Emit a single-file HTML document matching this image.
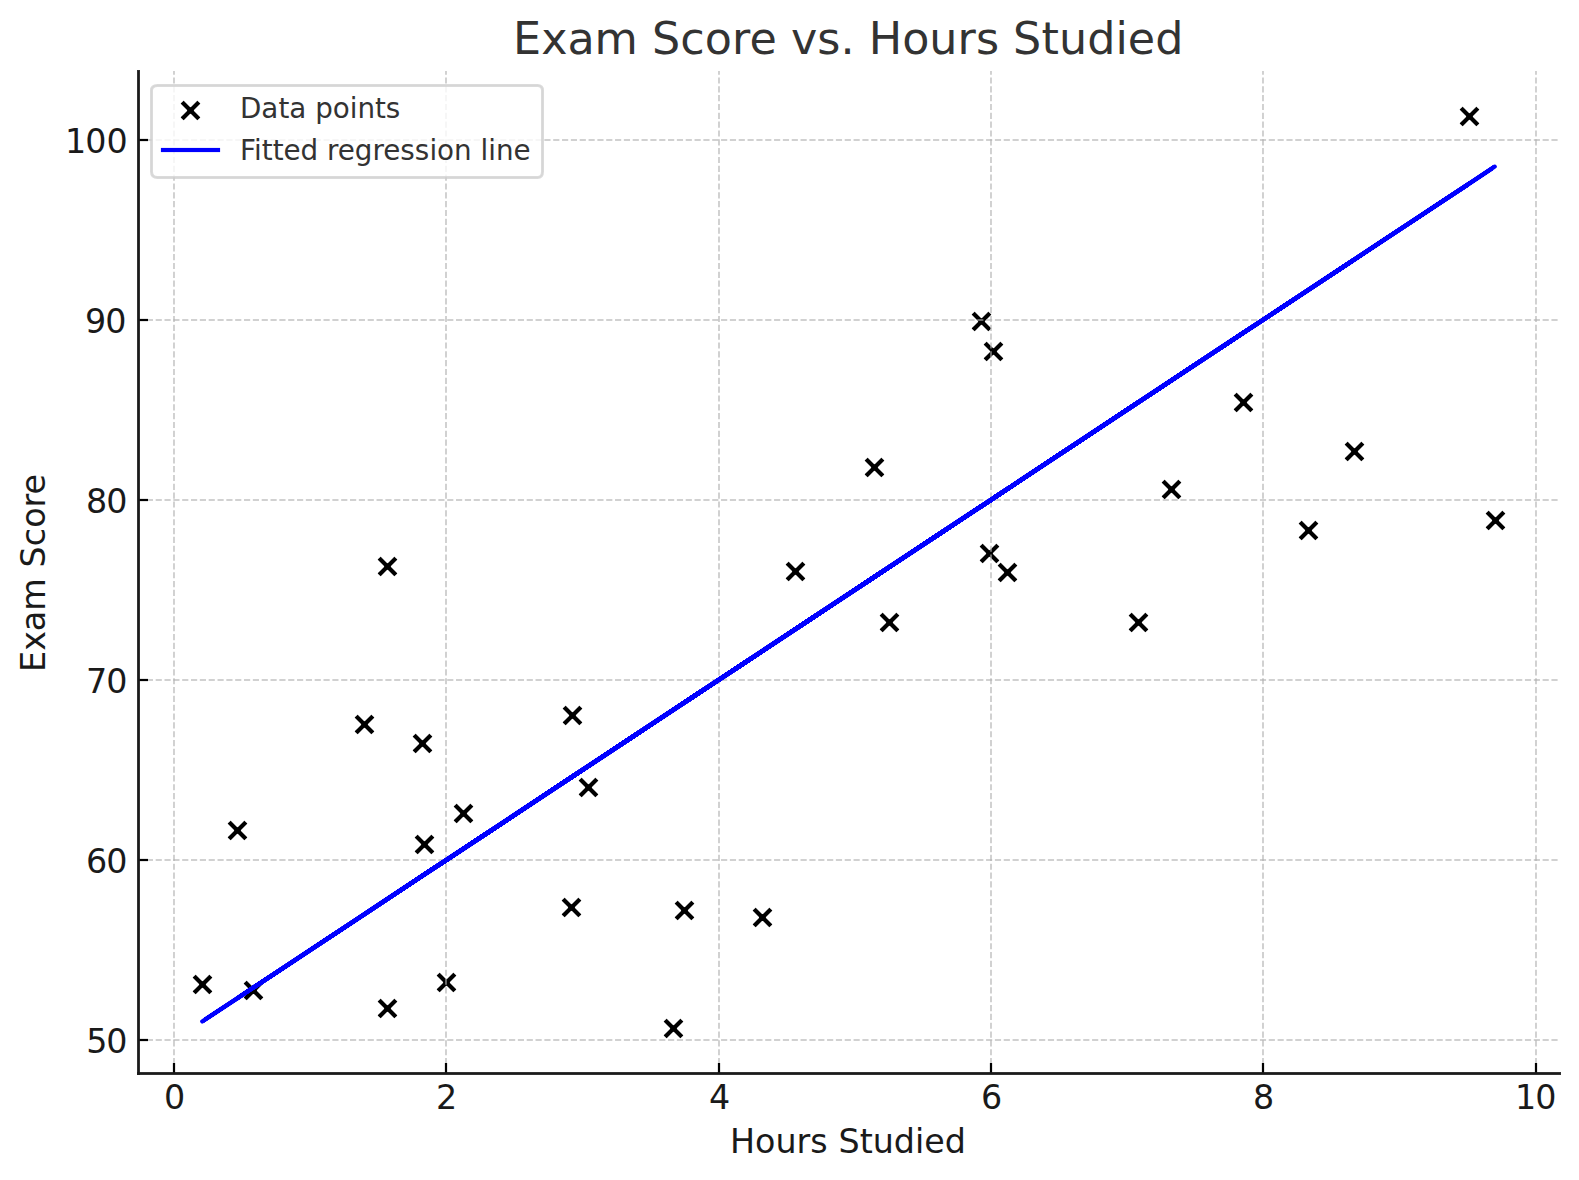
<!DOCTYPE html>
<html lang="en"><head><meta charset="utf-8"><title>Exam Score vs. Hours Studied</title>
<style>html,body{margin:0;padding:0;background:#fff}svg{display:block}text{font-family:"DejaVu Sans","Liberation Sans",sans-serif;white-space:pre}</style></head><body>
<svg width="1579" height="1180" viewBox="0 0 1579 1180">
<rect width="1579" height="1180" fill="#fff"/>
<defs><clipPath id="ax"><rect x="137.583" y="70.667" width="1421.800" height="1002.500"/></clipPath></defs>
<g clip-path="url(#ax)" style="isolation:isolate" stroke="#000" stroke-width="4.167" fill="none"><path d="M676.23 902.23L692.77 918.77M677.5 903.5L676.15 902.15M691.5 917.5L692.85 918.85M1461.23 108.23L1477.77 124.77M1462.5 109.5L1461.15 108.15M1476.5 123.5L1477.85 124.85M1163.23 481.23L1179.77 497.77M1164.5 482.5L1163.15 481.15M1178.5 496.5L1179.85 497.85M981.23 545.23L997.77 561.77M982.5 546.5L981.15 545.15M996.5 560.5L997.85 561.85M379.23 1000.23L395.77 1016.77M380.5 1001.5L379.15 1000.15M394.5 1015.5L395.85 1016.85M379.23 558.23L395.77 574.77M380.5 559.5L379.15 558.15M394.5 573.5L395.85 574.85M245.23 982.23L261.77 998.77M246.5 983.5L245.15 982.15M260.5 997.5L261.85 998.85M1346.23 443.23L1362.77 459.77M1347.5 444.5L1346.15 443.15M1361.5 458.5L1362.85 459.85M985.23 343.23L1001.77 359.77M986.5 344.5L985.15 343.15M1000.5 358.5L1001.85 359.85M1130.23 614.23L1146.77 630.77M1131.5 615.5L1130.15 614.15M1145.5 629.5L1146.85 630.85M194.23 976.23L210.77 992.77M195.5 977.5L194.15 976.15M209.5 991.5L210.85 992.85M1487.23 512.23L1503.77 528.77M1488.5 513.5L1487.15 512.15M1502.5 527.5L1503.85 528.85M1300.23 522.23L1316.77 538.77M1301.5 523.5L1300.15 522.15M1315.5 537.5L1316.85 538.85M455.23 805.23L471.77 821.77M456.5 806.5L455.15 805.15M470.5 820.5L471.85 821.85M414.23 735.23L430.77 751.77M415.5 736.5L414.15 735.15M429.5 750.5L430.85 751.85M416.23 836.23L432.77 852.77M417.5 837.5L416.15 836.15M431.5 851.5L432.85 852.85M580.23 779.23L596.77 795.77M581.5 780.5L580.15 779.15M595.5 794.5L596.85 795.85M881.23 614.23L897.77 630.77M882.5 615.5L881.15 614.15M896.5 629.5L897.85 630.85M754.23 909.23L770.77 925.77M755.5 910.5L754.15 909.15M769.5 924.5L770.85 925.85M563.23 899.23L579.77 915.77M564.5 900.5L563.15 899.15M578.5 914.5L579.85 915.85M999.23 564.23L1015.77 580.77M1000.5 565.5L999.15 564.15M1014.5 579.5L1015.85 580.85M356.23 716.23L372.77 732.77M357.5 717.5L356.15 716.15M371.5 731.5L372.85 732.85M564.23 707.23L580.77 723.77M565.5 708.5L564.15 707.15M579.5 722.5L580.85 723.85M665.23 1020.23L681.77 1036.77M666.5 1021.5L665.15 1020.15M680.5 1035.5L681.85 1036.85M787.23 563.23L803.77 579.77M788.5 564.5L787.15 563.15M802.5 578.5L803.85 579.85M1235.23 394.23L1251.77 410.77M1236.5 395.5L1235.15 394.15M1250.5 409.5L1251.85 410.85M438.23 974.23L454.77 990.77M439.5 975.5L438.15 974.15M453.5 989.5L454.85 990.85M866.23 459.23L882.77 475.77M867.5 460.5L866.15 459.15M881.5 474.5L882.85 475.85M973.23 313.23L989.77 329.77M974.5 314.5L973.15 313.15M988.5 328.5L989.85 329.85M229.23 822.23L245.77 838.77M230.5 823.5L229.15 822.15M244.5 837.5L245.85 838.85"/><path style="mix-blend-mode:plus-lighter" d="M676.23 918.77L692.77 902.23M677.5 917.5L676.15 918.85M691.5 903.5L692.85 902.15M1461.23 124.77L1477.77 108.23M1462.5 123.5L1461.15 124.85M1476.5 109.5L1477.85 108.15M1163.23 497.77L1179.77 481.23M1164.5 496.5L1163.15 497.85M1178.5 482.5L1179.85 481.15M981.23 561.77L997.77 545.23M982.5 560.5L981.15 561.85M996.5 546.5L997.85 545.15M379.23 1016.77L395.77 1000.23M380.5 1015.5L379.15 1016.85M394.5 1001.5L395.85 1000.15M379.23 574.77L395.77 558.23M380.5 573.5L379.15 574.85M394.5 559.5L395.85 558.15M245.23 998.77L261.77 982.23M246.5 997.5L245.15 998.85M260.5 983.5L261.85 982.15M1346.23 459.77L1362.77 443.23M1347.5 458.5L1346.15 459.85M1361.5 444.5L1362.85 443.15M985.23 359.77L1001.77 343.23M986.5 358.5L985.15 359.85M1000.5 344.5L1001.85 343.15M1130.23 630.77L1146.77 614.23M1131.5 629.5L1130.15 630.85M1145.5 615.5L1146.85 614.15M194.23 992.77L210.77 976.23M195.5 991.5L194.15 992.85M209.5 977.5L210.85 976.15M1487.23 528.77L1503.77 512.23M1488.5 527.5L1487.15 528.85M1502.5 513.5L1503.85 512.15M1300.23 538.77L1316.77 522.23M1301.5 537.5L1300.15 538.85M1315.5 523.5L1316.85 522.15M455.23 821.77L471.77 805.23M456.5 820.5L455.15 821.85M470.5 806.5L471.85 805.15M414.23 751.77L430.77 735.23M415.5 750.5L414.15 751.85M429.5 736.5L430.85 735.15M416.23 852.77L432.77 836.23M417.5 851.5L416.15 852.85M431.5 837.5L432.85 836.15M580.23 795.77L596.77 779.23M581.5 794.5L580.15 795.85M595.5 780.5L596.85 779.15M881.23 630.77L897.77 614.23M882.5 629.5L881.15 630.85M896.5 615.5L897.85 614.15M754.23 925.77L770.77 909.23M755.5 924.5L754.15 925.85M769.5 910.5L770.85 909.15M563.23 915.77L579.77 899.23M564.5 914.5L563.15 915.85M578.5 900.5L579.85 899.15M999.23 580.77L1015.77 564.23M1000.5 579.5L999.15 580.85M1014.5 565.5L1015.85 564.15M356.23 732.77L372.77 716.23M357.5 731.5L356.15 732.85M371.5 717.5L372.85 716.15M564.23 723.77L580.77 707.23M565.5 722.5L564.15 723.85M579.5 708.5L580.85 707.15M665.23 1036.77L681.77 1020.23M666.5 1035.5L665.15 1036.85M680.5 1021.5L681.85 1020.15M787.23 579.77L803.77 563.23M788.5 578.5L787.15 579.85M802.5 564.5L803.85 563.15M1235.23 410.77L1251.77 394.23M1236.5 409.5L1235.15 410.85M1250.5 395.5L1251.85 394.15M438.23 990.77L454.77 974.23M439.5 989.5L438.15 990.85M453.5 975.5L454.85 974.15M866.23 475.77L882.77 459.23M867.5 474.5L866.15 475.85M881.5 460.5L882.85 459.15M973.23 329.77L989.77 313.23M974.5 328.5L973.15 329.85M988.5 314.5L989.85 313.15M229.23 838.77L245.77 822.23M230.5 837.5L229.15 838.85M244.5 823.5L245.85 822.15"/></g>
<g clip-path="url(#ax)" stroke="#b0b0b0" stroke-opacity="0.7" stroke-width="1.667" stroke-dasharray="6.167 2.667" fill="none">
<path d="M174 1073L174 71"/>
<path d="M446 1073L446 71"/>
<path d="M719 1073L719 71"/>
<path d="M991 1073L991 71"/>
<path d="M1263 1073L1263 71"/>
<path d="M1536 1073L1536 71"/>
<path stroke-width="2" stroke-opacity="0.5833" d="M138 1040L1559 1040"/>
<path stroke-width="2" stroke-opacity="0.5833" d="M138 860L1559 860"/>
<path stroke-width="2" stroke-opacity="0.5833" d="M138 680L1559 680"/>
<path stroke-width="2" stroke-opacity="0.5833" d="M138 500L1559 500"/>
<path stroke-width="2" stroke-opacity="0.5833" d="M138 320L1559 320"/>
<path stroke-width="2" stroke-opacity="0.5833" d="M138 140L1559 140"/>
</g>
<defs>
<clipPath id="c1"><rect x="0" y="0" width="204" height="1180"/><rect x="1493" y="0" width="86" height="1180"/></clipPath>
<clipPath id="c2"><rect x="204" y="0" width="33" height="1180"/><rect x="1469" y="0" width="24" height="1180"/></clipPath>
<filter id="f2" filterUnits="userSpaceOnUse" x="0" y="0" width="1579" height="1180" color-interpolation-filters="sRGB"><feComponentTransfer><feFuncA type="linear" slope="2"/></feComponentTransfer></filter>
<clipPath id="c3"><rect x="237" y="0" width="16" height="1180"/></clipPath>
<filter id="f3" filterUnits="userSpaceOnUse" x="0" y="0" width="1579" height="1180" color-interpolation-filters="sRGB"><feComponentTransfer><feFuncA type="linear" slope="3"/></feComponentTransfer></filter>
<clipPath id="c4"><rect x="1354" y="0" width="115" height="1180"/></clipPath>
<filter id="f4" filterUnits="userSpaceOnUse" x="0" y="0" width="1579" height="1180" color-interpolation-filters="sRGB"><feComponentTransfer><feFuncA type="linear" slope="4"/></feComponentTransfer></filter>
<clipPath id="c5"><rect x="253" y="0" width="111" height="1180"/></clipPath>
<filter id="f5" filterUnits="userSpaceOnUse" x="0" y="0" width="1579" height="1180" color-interpolation-filters="sRGB"><feComponentTransfer><feFuncA type="linear" slope="5"/></feComponentTransfer></filter>
<clipPath id="c6"><rect x="1243" y="0" width="111" height="1180"/></clipPath>
<filter id="f6" filterUnits="userSpaceOnUse" x="0" y="0" width="1579" height="1180" color-interpolation-filters="sRGB"><feComponentTransfer><feFuncA type="linear" slope="6"/></feComponentTransfer></filter>
<clipPath id="c7"><rect x="364" y="0" width="58" height="1180"/></clipPath>
<filter id="f7" filterUnits="userSpaceOnUse" x="0" y="0" width="1579" height="1180" color-interpolation-filters="sRGB"><feComponentTransfer><feFuncA type="linear" slope="7"/></feComponentTransfer></filter>
<clipPath id="c8"><rect x="1138" y="0" width="105" height="1180"/></clipPath>
<filter id="f8" filterUnits="userSpaceOnUse" x="0" y="0" width="1579" height="1180" color-interpolation-filters="sRGB"><feComponentTransfer><feFuncA type="linear" slope="8"/></feComponentTransfer></filter>
<clipPath id="c9"><rect x="422" y="0" width="24" height="1180"/></clipPath>
<filter id="f9" filterUnits="userSpaceOnUse" x="0" y="0" width="1579" height="1180" color-interpolation-filters="sRGB"><feComponentTransfer><feFuncA type="linear" slope="9"/></feComponentTransfer></filter>
<clipPath id="c10"><rect x="981" y="0" width="12" height="1180"/><rect x="1007" y="0" width="131" height="1180"/></clipPath>
<filter id="f10" filterUnits="userSpaceOnUse" x="0" y="0" width="1579" height="1180" color-interpolation-filters="sRGB"><feComponentTransfer><feFuncA type="linear" slope="10"/></feComponentTransfer></filter>
<clipPath id="c11"><rect x="446" y="0" width="125" height="1180"/></clipPath>
<filter id="f11" filterUnits="userSpaceOnUse" x="0" y="0" width="1579" height="1180" color-interpolation-filters="sRGB"><feComponentTransfer><feFuncA type="linear" slope="11"/></feComponentTransfer></filter>
<clipPath id="c12"><rect x="889" y="0" width="92" height="1180"/><rect x="993" y="0" width="14" height="1180"/></clipPath>
<filter id="f12" filterUnits="userSpaceOnUse" x="0" y="0" width="1579" height="1180" color-interpolation-filters="sRGB"><feComponentTransfer><feFuncA type="linear" slope="12"/></feComponentTransfer></filter>
<clipPath id="c13"><rect x="571" y="0" width="113" height="1180"/></clipPath>
<filter id="f13" filterUnits="userSpaceOnUse" x="0" y="0" width="1579" height="1180" color-interpolation-filters="sRGB"><feComponentTransfer><feFuncA type="linear" slope="13"/></feComponentTransfer></filter>
<clipPath id="c14"><rect x="684" y="0" width="205" height="1180"/></clipPath>
<filter id="f14" filterUnits="userSpaceOnUse" x="0" y="0" width="1579" height="1180" color-interpolation-filters="sRGB"><feComponentTransfer><feFuncA type="linear" slope="14"/></feComponentTransfer></filter>
<line id="rl" x1="202.21" y1="1021.45" x2="1494.76" y2="166.61" fill="none" stroke="#00f" stroke-width="4.167" stroke-linecap="round"/>
</defs>
<g clip-path="url(#c1)"><use href="#rl"/></g>
<g clip-path="url(#c2)" filter="url(#f2)"><use href="#rl"/></g>
<g clip-path="url(#c3)" filter="url(#f3)"><use href="#rl"/></g>
<g clip-path="url(#c4)" filter="url(#f4)"><use href="#rl"/></g>
<g clip-path="url(#c5)" filter="url(#f5)"><use href="#rl"/></g>
<g clip-path="url(#c6)" filter="url(#f6)"><use href="#rl"/></g>
<g clip-path="url(#c7)" filter="url(#f7)"><use href="#rl"/></g>
<g clip-path="url(#c8)" filter="url(#f8)"><use href="#rl"/></g>
<g clip-path="url(#c9)" filter="url(#f9)"><use href="#rl"/></g>
<g clip-path="url(#c10)" filter="url(#f10)"><use href="#rl"/></g>
<g clip-path="url(#c11)" filter="url(#f11)"><use href="#rl"/></g>
<g clip-path="url(#c12)" filter="url(#f12)"><use href="#rl"/></g>
<g clip-path="url(#c13)" filter="url(#f13)"><use href="#rl"/></g>
<g clip-path="url(#c14)" filter="url(#f14)"><use href="#rl"/></g>
<g stroke="#000" stroke-width="2.222" fill="none">
<path d="M174 1073L174 1063"/>
<path d="M446 1073L446 1063"/>
<path d="M719 1073L719 1063"/>
<path d="M991 1073L991 1063"/>
<path d="M1263 1073L1263 1063"/>
<path d="M1536 1073L1536 1063"/>
<path d="M138 1040L148 1040"/>
<path d="M138 860L148 860"/>
<path d="M138 680L148 680"/>
<path d="M138 500L148 500"/>
<path d="M138 320L148 320"/>
<path d="M138 140L148 140"/>
</g>
<g fill="#1a1a1a">
<rect x="137" y="70" width="3" height="1005" fill-opacity="0.895"/>
<rect x="138" y="71" width="1" height="1003"/>
<rect x="137" y="1072" width="1424" height="3" fill-opacity="0.895"/>
<rect x="138" y="1073" width="1422" height="1"/>
</g>
<text x="164.00" y="1108.89" font-size="33.333" fill="#1a1a1a">0</text>
<text x="436.00" y="1108.89" font-size="33.333" fill="#1a1a1a">2</text>
<text x="709.00" y="1108.89" font-size="33.333" fill="#1a1a1a">4</text>
<text x="981.00" y="1108.89" font-size="33.333" fill="#1a1a1a">6</text>
<text x="1253.00" y="1108.89" font-size="33.333" fill="#1a1a1a">8</text>
<text x="1515.00 1535.25" y="1108.89" font-size="33.333" fill="#1a1a1a">10</text>
<text x="730.00 755.00 775.50 796.50 810.25 827.63 838.50 859.75 872.75 893.75 915.00 924.25 944.75" y="1153.00" font-size="33.333" fill="#1a1a1a">Hours Studied</text>
<text x="86.25 106.25" y="1052.98" font-size="33.333" fill="#1a1a1a">50</text>
<text x="86.00 106.25" y="872.89" font-size="33.333" fill="#1a1a1a">60</text>
<text x="86.00 106.25" y="692.80" font-size="33.333" fill="#1a1a1a">70</text>
<text x="86.00 106.25" y="512.70" font-size="33.333" fill="#1a1a1a">80</text>
<text x="85.00 105.25" y="332.61" font-size="33.333" fill="#1a1a1a">90</text>
<text x="65.00 85.25 106.50" y="152.52" font-size="33.333" fill="#1a1a1a">100</text>
<text transform="translate(45.00 672.16) rotate(-90)" x="0.25 21.50 41.00 61.50 94.05 104.75 126.00 144.50 164.75 177.75" font-size="33.333" fill="#1a1a1a">Exam Score</text>
<text x="513.00 541.25 567.50 594.50 638.07 652.00 680.25 704.75 732.00 749.50 776.88 791.00 817.25 840.50 854.67 868.75 902.25 929.25 957.50 976.00 999.20 1013.00 1041.50 1059.00 1087.25 1115.50 1127.75 1155.25" y="54.00" font-size="44.444" fill="#333333">Exam Score vs. Hours Studied</text>
<path d="M157.5 177.5L537.5 177.5Q542.5 177.5 542.5 171.5L542.5 90.5Q542.5 85.5 537.5 85.5L157.5 85.5Q151.5 85.5 151.5 90.5L151.5 171.5Q151.5 177.5 157.5 177.5Z" fill="#fff" fill-opacity="0.8"/>
<path d="M157.5 177.5L537.5 177.5Q542.5 177.5 542.5 171.5L542.5 90.5Q542.5 85.5 537.5 85.5L157.5 85.5Q151.5 85.5 151.5 90.5L151.5 171.5Q151.5 177.5 157.5 177.5Z" fill="none" stroke="#ccc" stroke-opacity="0.712" stroke-width="3"/>
<path d="M157.5 177.5L537.5 177.5Q542.5 177.5 542.5 171.5L542.5 90.5Q542.5 85.5 537.5 85.5L157.5 85.5Q151.5 85.5 151.5 90.5L151.5 171.5Q151.5 177.5 157.5 177.5Z" fill="none" stroke="#ccc" stroke-opacity="0.31" stroke-width="1"/>
<g style="isolation:isolate" stroke="#000" stroke-width="4.167" fill="none"><path d="M182.23 102.23L198.77 118.77M183.5 103.5L182.15 102.15M197.5 117.5L198.85 118.85"/><path style="mix-blend-mode:plus-lighter" d="M182.23 118.77L198.77 102.23M183.5 117.5L182.15 118.85M197.5 103.5L198.85 102.15"/></g>
<rect x="160.917" y="147" width="59.166" height="6" fill="#00f" fill-opacity="0.083"/><rect x="160.917" y="148" width="59.166" height="4" fill="#00f"/>
<text x="240.00 261.25 278.50 289.25 306.25 315.25 332.75 349.75 357.50 375.00 385.75" y="117.67" font-size="27.778" fill="#333333">Data points</text>
<text x="240.00 254.00 261.75 272.75 283.50 300.50 318.13 327.00 337.75 354.75 372.50 383.25 400.25 414.75 429.50 437.00 454.00 471.59 480.50 488.25 496.00 513.50" y="159.56" font-size="27.778" fill="#333333">Fitted regression line</text>
</svg></body></html>
